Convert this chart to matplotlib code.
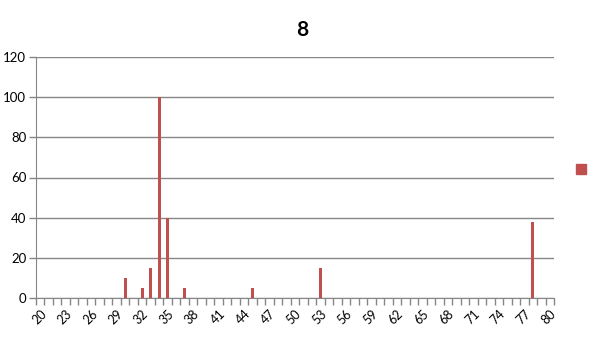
import numpy as np
import matplotlib.pyplot as plt

plt.rcParams['font.family'] = ['Lato', 'DejaVu Sans']

# categories 20..80, only a few have values
ages = list(range(20, 81))
bar_ages = [30, 32, 33, 34, 35, 37, 45, 53, 78]
bar_vals = [10, 5, 15, 100, 40, 5, 5, 15, 38]
tick_labels = [str(a) for a in range(20, 81, 3)]

vals = np.zeros(len(ages))
for a, v in zip(bar_ages, bar_vals):
    vals[ages.index(a)] = v

red = '#C0504D'
grid = '#868686'

fig = plt.figure(figsize=(6.05, 3.4), dpi=100)
ax = fig.add_axes([36/605, 1-298/340, (554-36)/605, (298-57)/340])

x = np.arange(len(ages))
ax.bar(x, vals, width=0.38, color=red, zorder=3)

ax.set_xlim(-0.5, len(ages)-0.5)
ax.set_ylim(0, 120)
ax.set_yticks(range(0, 121, 20))
ax.yaxis.grid(True, color=grid, linewidth=1, zorder=0)

for s in ['top', 'right']:
    ax.spines[s].set_visible(False)
ax.spines['left'].set_color(grid)
ax.spines['bottom'].set_color(grid)

# tick marks at category boundaries, labels at every 3rd category
ax.set_xticks(np.arange(-0.5, len(ages), 1), minor=True)
ax.set_xticks([ages.index(int(t)) for t in tick_labels])
ax.set_xticklabels(tick_labels, rotation=45, ha='right', va='top',
                   rotation_mode='anchor', fontsize=9)
ax.tick_params(axis='x', which='major', length=0, pad=7)
ax.tick_params(axis='x', which='minor', length=5, color=grid, width=1)
ax.tick_params(axis='y', length=5, color=grid, width=1, labelsize=9.5, pad=2)

fig.text(302/605, 1-30/340, '8', ha='center', va='center',
         fontsize=15, fontweight='bold')

fig.legend(handles=[plt.Rectangle((0, 0), 1, 1, color=red)], labels=[''],
           loc='center', bbox_to_anchor=(581/605, 1-170/340), frameon=False,
           handlelength=0.7, handleheight=0.7, handletextpad=0)

fig.savefig('out.png', dpi=100)
